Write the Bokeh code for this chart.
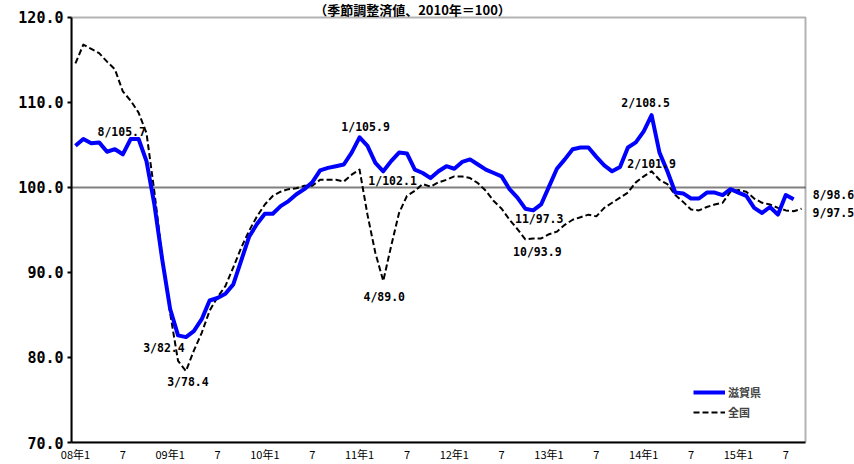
from bokeh.plotting import figure
from bokeh.models import (Label, Legend, LegendItem, FixedTicker, BoxAnnotation,
                          PrintfTickFormatter, Range1d, ColumnDataSource)
from bokeh.embed import file_html
from bokeh.resources import INLINE

# Monthly index (seasonally adjusted, 2010 = 100), starting January 2008
title_text = "（季節調整済値、2010年＝100）"

shiga = [
    104.9, 105.7, 105.2, 105.3, 104.2, 104.5, 103.9, 105.7, 105.7, 103.1, 98.0, 91.5,   # 2008
    85.7, 82.6, 82.4, 83.1, 84.5, 86.7, 87.0, 87.5, 88.6, 91.4, 94.2, 95.7,            # 2009
    96.9, 96.9, 97.8, 98.4, 99.2, 99.8, 100.6, 102.0, 102.3, 102.5, 102.7, 104.1,      # 2010
    105.9, 104.9, 102.9, 101.9, 103.1, 104.1, 104.0, 102.1, 101.7, 101.1, 101.9, 102.5,  # 2011
    102.2, 103.0, 103.3, 102.7, 102.1, 101.7, 101.3, 99.8, 98.8, 97.5, 97.3, 98.0,     # 2012
    100.1, 102.2, 103.3, 104.5, 104.7, 104.7, 103.6, 102.6, 101.9, 102.4, 104.7, 105.3,  # 2013
    106.6, 108.5, 104.1, 101.9, 99.4, 99.3, 98.7, 98.7, 99.4, 99.4, 99.1, 99.8,        # 2014
    99.4, 99.0, 97.6, 97.0, 97.7, 96.8, 99.1, 98.6,                                    # 2015 (to Aug)
]

zenkoku = [
    114.6, 116.8, 116.3, 115.8, 114.8, 113.9, 111.3, 110.2, 108.8, 106.4, 99.5, 91.8,  # 2008
    85.2, 79.6, 78.4, 80.8, 82.9, 85.5, 87.1, 88.4, 90.6, 92.9, 94.9, 96.6,            # 2009
    98.0, 99.0, 99.5, 99.8, 99.9, 100.2, 100.2, 100.9, 100.9, 100.9, 100.7, 101.5,     # 2010
    102.1, 96.8, 92.3, 89.0, 93.1, 97.0, 99.0, 99.6, 100.4, 100.1, 100.6, 100.9,       # 2011
    101.3, 101.3, 101.1, 100.5, 99.6, 98.4, 97.5, 96.2, 95.1, 93.9, 94.0, 94.0,        # 2012
    94.5, 94.8, 95.6, 96.2, 96.5, 96.8, 96.6, 97.6, 98.2, 98.8, 99.4, 100.6,           # 2013
    101.3, 101.9, 100.9, 100.4, 99.1, 98.3, 97.4, 97.3, 97.7, 98.0, 98.2, 99.5,        # 2014
    99.7, 99.5, 98.7, 98.2, 98.0, 97.6, 97.3, 97.2, 97.5,                              # 2015 (to Sep)
]

series_names = ["滋賀県", "全国"]
x_tick_years = ["08", "09", "10", "11", "12", "13", "14", "15"]
y_ticks = [70, 80, 90, 100, 110, 120]
base_level = 100

# Points to annotate as "month/value": (index, x offset px, y offset px, align)
shiga_notes = [(7, -9, 7, "center"), (14, -22, -11, "center"),
               (36, 6, 10, "center"), (58, 6, -9, "center"),
               (73, -6, 12, "center"), (91, 19, 4, "left")]
zenkoku_notes = [(14, 2, -11, "center"), (36, 33, -11, "center"),
                 (39, 1, -16, "center"), (57, 12, -13, "center"),
                 (73, 0, 7, "center"), (92, 11, -4, "left")]

MONO = "DejaVu Sans Mono"
CJK = "Noto Sans CJK JP"

n_months = len(zenkoku)
x_lo, x_hi = -0.5, n_months - 0.5
y_lo, y_hi = y_ticks[0], y_ticks[-1]

# The frame runs to the top and right edges of the canvas so that the
# notes beside the box and the heading above it are not clipped; the box
# itself is drawn as an annotation over the data extent.
px_per_month = 734 / n_months
px_per_unit = 427 / (y_hi - y_lo)

p = figure(width=854, height=464, output_backend="svg", toolbar_location=None,
           x_range=Range1d(x_lo, x_hi + 49 / px_per_month),
           y_range=Range1d(y_lo, y_hi + 17 / px_per_unit))
p.min_border_left = 71
p.min_border_right = 0
p.min_border_top = 0
p.min_border_bottom = 20
p.background_fill_color = "white"
p.border_fill_color = "white"
p.outline_line_color = None
p.xgrid.grid_line_color = None
p.ygrid.grid_line_color = None

# reference level 100
p.segment(x0=[x_lo], y0=[base_level], x1=[x_hi], y1=[base_level],
          line_color="#808080", line_width=2)

src_s = ColumnDataSource(dict(x=list(range(len(shiga))), y=shiga))
src_z = ColumnDataSource(dict(x=list(range(len(zenkoku))), y=zenkoku))

r_z = p.line("x", "y", source=src_z, line_color="black", line_width=2,
             line_dash="6 3", line_join="round")
r_s = p.line("x", "y", source=src_s, line_color="#0000FF", line_width=4,
             line_join="round")

p.add_layout(BoxAnnotation(left=x_lo, right=x_hi, bottom=y_lo, top=y_hi,
                           fill_alpha=0, line_color="black", line_width=2))

# axes
yax = p.yaxis[0]
yax.bounds = (y_lo, y_hi)
yax.ticker = FixedTicker(ticks=y_ticks)
yax.formatter = PrintfTickFormatter(format="%.1f")
yax.major_label_text_font = MONO
yax.major_label_text_font_style = "bold"
yax.major_label_text_font_size = "15px"
yax.major_label_text_color = "black"
yax.major_tick_out = 4
yax.major_tick_in = 0
yax.minor_tick_out = 0
yax.minor_tick_in = 0
yax.major_tick_line_width = 2
yax.axis_line_width = 2
yax.major_label_standoff = 4

xax = p.xaxis[0]
xax.bounds = (x_lo, x_hi)
tick_pos = list(range(0, n_months, 6))
overrides = {}
for k, t in enumerate(tick_pos):
    overrides[t] = f"{x_tick_years[k // 2]}年1" if k % 2 == 0 else "7"
xax.ticker = FixedTicker(ticks=tick_pos)
xax.major_label_overrides = overrides
xax.major_label_text_font = CJK
xax.major_label_text_font_size = "11px"
xax.major_label_text_color = "black"
xax.major_tick_out = 0
xax.major_tick_in = 0
xax.minor_tick_out = 0
xax.minor_tick_in = 0
xax.axis_line_width = 2
xax.major_label_standoff = 3


def add_notes(values, notes):
    for idx, dx, dy, align in notes:
        month = idx % 12 + 1
        p.add_layout(Label(x=idx, y=values[idx], x_offset=dx, y_offset=dy,
                           text=f"{month}/{values[idx]:.1f}",
                           text_font=MONO, text_font_style="bold",
                           text_font_size="11.5px", text_color="black",
                           text_align=align, text_baseline="middle"))


add_notes(shiga, shiga_notes)
add_notes(zenkoku, zenkoku_notes)

# heading above the box
p.add_layout(Label(x=341, y=444 - 1, x_units="screen", y_units="screen",
                   text=title_text, text_font=CJK, text_font_style="bold",
                   text_font_size="13px", text_color="black",
                   text_align="center", text_baseline="top"))

legend = Legend(items=[LegendItem(label=series_names[0], renderers=[r_s]),
                       LegendItem(label=series_names[1], renderers=[r_z])],
                location=(622, 20), orientation="vertical",
                border_line_color=None, background_fill_alpha=0,
                padding=0, margin=0, spacing=0,
                glyph_width=32, glyph_height=20, label_height=20,
                label_standoff=3, label_text_font=CJK,
                label_text_font_style="bold", label_text_font_size="11px")
p.add_layout(legend)

open("out.html", "w").write(file_html(p, INLINE))
